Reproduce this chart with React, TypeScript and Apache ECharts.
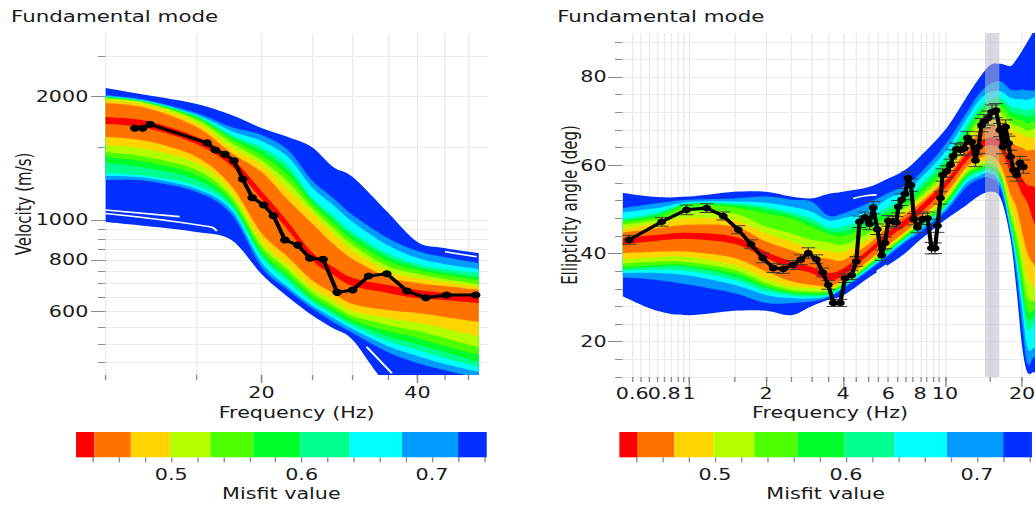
import React, { useEffect, useRef } from 'react';
import * as echarts from 'echarts';

const STRETCH = 1.38;
const CW = 750;
const CH = 507;
const FONT = 'DejaVu Sans';
const TEXT = '#1a1a1a';
const TICK = '#8c8c8c';
const GRIDLINE = '#ebebeb';

// ---------- Left panel: dispersion curve (observed) ----------
const dispFreq = [11.4, 11.8, 12.2, 15.7, 16.3, 17.0, 17.7, 18.4, 19.2, 20.2, 21.1, 22.2, 23.5, 24.8, 26.3, 28.0, 30.0, 32.2, 34.9, 38.2, 41.5, 45.5, 51.8];
const dispVel = [1671, 1671, 1709, 1541, 1480, 1445, 1394, 1258, 1133, 1088, 1024, 894, 869, 807, 803, 667, 676, 731, 740, 672, 647, 657, 657];

// Misfit envelopes of the inverted models (velocity m/s), per misfit class
const leftSampleFreq = [10, 12, 15, 17.5, 20, 22.5, 25, 27.5, 30, 35, 40, 45, 52.5];
const velBlueTop = [2094, 2013, 1915, 1800, 1674, 1592, 1505, 1346, 1272, 1046, 884, 855, 831];
const velAzureTop = [2013, 1958, 1821, 1683, 1610, 1480, 1251, 1131, 1028, 904, 841, 813, 786];
const velCyanTop = [2002, 1947, 1800, 1646, 1556, 1423, 1203, 1088, 989, 869, 808, 782, 760];
const velSpringTop = [1997, 1942, 1790, 1610, 1505, 1361, 1137, 1028, 935, 831, 782, 760, 743];
const velGreen2Top = [1991, 1936, 1780, 1592, 1472, 1323, 1118, 1006, 914, 813, 769, 747, 727];
const velGreenTop = [1986, 1931, 1770, 1574, 1439, 1287, 1100, 983, 894, 795, 756, 735, 715];
const velLimeTop = [1980, 1925, 1751, 1539, 1399, 1237, 1070, 956, 869, 773, 739, 719, 699];
const velGoldTop = [1958, 1904, 1721, 1497, 1361, 1183, 1040, 925, 841, 752, 723, 707, 687];
const velOrangeTop = [1925, 1872, 1683, 1455, 1308, 1118, 983, 874, 804, 727, 703, 691, 676];
const velRedTop = [1780, 1741, 1592, 1415, 1176, 989, 836, 769, 723, 695, 676, 665, 650];
const velRedBottom = [1712, 1674, 1530, 1353, 1125, 946, 799, 735, 691, 665, 646, 639, 628];
const velOrangeBottom = [1592, 1556, 1423, 1210, 930, 813, 715, 665, 625, 604, 594, 581, 565];
const velGoldBottom = [1522, 1488, 1376, 1170, 889, 777, 687, 639, 601, 578, 562, 546, 522];
const velLimeBottom = [1463, 1423, 1323, 1137, 865, 756, 668, 621, 584, 556, 537, 517, 491];
const velGreenBottom = [1423, 1384, 1287, 1112, 841, 735, 653, 608, 571, 537, 517, 494, 470];
const velGreen2Bottom = [1376, 1338, 1251, 1094, 827, 723, 643, 598, 562, 522, 499, 478, 452];
const velSpringBottom = [1301, 1279, 1210, 1076, 813, 707, 632, 588, 552, 508, 483, 462, 439];
const velCyanBottom = [1279, 1265, 1190, 1058, 790, 687, 621, 578, 543, 494, 467, 447, 427];
const velAzureBottom = [1251, 1244, 1170, 1034, 769, 676, 611, 565, 531, 478, 449, 432, 413];
const velBlueBottom = [989, 967, 935, 894, 739, 650, 588, 546, 511, 397, 375, 365, 355];

// thin white gaps between individual model curves (freq, velocity)
const velGapA = [[10, 1058], [13.9, 1019]];
const velGapB = [[10, 1037], [15.9, 963], [16.4, 940]];
const velGapC = [[45.2, 837], [52.0, 814]];
const velGapD = [[31.9, 492], [35.7, 424]];

// ---------- Right panel: ellipticity curve (observed) ----------
const ellFreq = [0.584, 0.782, 0.978, 1.173, 1.361, 1.558, 1.747, 1.941, 2.135, 2.336, 2.542, 2.731, 2.924, 3.143, 3.329, 3.501, 3.663, 3.899, 4.068, 4.321, 4.504, 4.634, 4.869, 5.072, 5.248, 5.44, 5.659, 5.83, 6.006, 6.266, 6.455, 6.572, 6.776, 6.98, 7.171, 7.366, 7.567, 7.809, 8.168, 8.543, 8.857, 9.14, 9.348, 9.603, 9.777, 10.14, 10.51, 10.75, 11.09, 11.5, 11.87, 12.24, 12.69, 13.15, 13.52, 13.89, 14.2, 14.72, 15.26, 15.82, 16.4, 16.85, 17.23, 17.7, 18.03, 18.52, 19.06, 19.63, 20.22];
const ellAngle = [43.1, 47.2, 49.9, 50.3, 48.5, 45.4, 42.1, 39.0, 36.7, 36.5, 37.4, 38.6, 40.1, 38.7, 35.7, 32.9, 28.8, 28.8, 34.4, 35.1, 38.2, 47.2, 48.2, 46.7, 50.4, 45.5, 39.6, 42.4, 47.4, 47.3, 47.1, 50.6, 52.2, 53.5, 57.1, 55.5, 47.8, 45.9, 47.8, 48.0, 41.2, 41.2, 46.3, 52.6, 57.8, 58.6, 60.1, 62.1, 63.7, 63.5, 63.8, 66.2, 65.3, 61.1, 64.2, 69.1, 70.0, 70.7, 72.1, 72.4, 68.0, 64.2, 68.7, 65.0, 61.9, 58.9, 57.8, 60.5, 59.7];
const ellErr = [1.0, 1.0, 1.1, 1.0, 0.9, 0.9, 1.0, 1.1, 1.0, 1.0, 1.0, 1.1, 1.2, 1.0, 1.0, 1.0, 0.8, 0.8, 1.0, 1.0, 1.1, 1.3, 1.2, 1.3, 1.4, 1.2, 1.2, 1.3, 1.2, 1.2, 1.3, 1.4, 1.3, 1.3, 1.4, 1.4, 1.3, 1.2, 1.3, 1.4, 1.3, 1.2, 1.5, 1.4, 1.4, 1.3, 1.3, 1.4, 1.3, 1.3, 1.4, 1.5, 1.4, 1.4, 1.5, 1.5, 1.5, 1.6, 1.6, 1.6, 1.5, 1.6, 1.6, 1.6, 1.5, 1.5, 1.4, 1.5, 1.5];
const shadedBand = [14.33, 16.3];

const rightSampleFreq = [0.55, 0.75, 1, 1.5, 2, 2.5, 3, 3.5, 4, 5, 6, 7, 8, 10, 12, 13.5, 15, 16.5, 18, 19, 20, 21, 22.5, 25];
const angBlueTop = [53.7, 52.8, 52.9, 54.0, 54.0, 52.9, 52.5, 53.5, 54.0, 55.0, 57.0, 59.0, 62.0, 68.0, 75.0, 79.5, 82.7, 83.0, 82.5, 84.0, 86.0, 88.0, 91.0, 95.0];
const angAzureTop = [50.3, 51.4, 52.2, 52.5, 52.9, 52.2, 51.8, 48.6, 49.1, 51.4, 53.7, 55.5, 58.2, 64.6, 71.5, 76.0, 78.5, 79.0, 77.2, 77.0, 77.2, 77.0, 77.0, 78.0];
const angCyanTop = [49.3, 50.3, 51.7, 51.8, 51.5, 50.6, 49.5, 47.5, 48.0, 49.5, 52.5, 54.2, 57.0, 63.0, 70.0, 74.5, 76.6, 76.8, 75.3, 75.0, 75.0, 74.8, 75.5, 76.0];
const angSpringTop = [47.8, 49.3, 51.4, 51.4, 50.6, 49.3, 48.0, 46.0, 46.1, 48.0, 50.6, 52.9, 55.5, 61.6, 68.5, 73.0, 75.0, 75.3, 73.5, 73.0, 72.8, 72.5, 73.0, 73.5];
const angGreen2Top = [47.5, 48.8, 51.2, 51.0, 50.0, 48.7, 47.0, 45.2, 45.0, 47.0, 49.5, 52.0, 54.6, 60.5, 67.5, 72.0, 73.8, 74.3, 72.3, 71.8, 71.5, 71.0, 71.5, 72.0];
const angGreenTop = [47.2, 48.3, 51.0, 50.5, 49.1, 48.0, 46.1, 44.5, 44.0, 46.0, 48.4, 51.0, 53.7, 59.3, 66.5, 71.0, 72.7, 73.5, 71.2, 70.5, 70.2, 69.5, 70.0, 70.5];
const angLimeTop = [46.5, 47.6, 49.5, 49.1, 46.1, 44.6, 43.1, 42.5, 42.0, 44.6, 48.0, 50.4, 52.8, 58.3, 65.3, 69.8, 71.5, 72.0, 69.7, 69.0, 68.5, 67.8, 68.3, 68.5];
const angGoldTop = [45.5, 46.9, 48.0, 47.6, 44.6, 42.7, 41.2, 40.5, 40.4, 43.2, 47.0, 49.6, 52.1, 57.4, 64.2, 68.5, 70.3, 70.5, 68.2, 67.5, 67.0, 66.3, 66.5, 66.5];
const angOrangeTop = [44.7, 45.7, 46.5, 46.1, 42.7, 40.8, 39.3, 38.8, 38.5, 42.0, 46.1, 48.9, 51.5, 56.8, 63.2, 67.2, 68.8, 68.5, 65.5, 64.5, 64.0, 63.3, 63.5, 63.0];
const angRedTop = [43.5, 44.2, 44.7, 43.8, 40.4, 38.2, 37.0, 35.6, 36.6, 40.8, 45.0, 47.8, 50.7, 56.2, 62.2, 65.0, 66.3, 65.5, 61.0, 59.0, 57.0, 55.5, 55.0, 52.0];
const angRedBottom = [42.0, 42.9, 43.3, 42.2, 39.0, 36.7, 35.6, 33.9, 35.0, 39.6, 43.5, 46.3, 49.1, 54.8, 60.6, 63.4, 64.6, 63.5, 58.5, 56.5, 53.5, 51.5, 46.5, 43.0];
const angOrangeBottom = [40.1, 40.4, 40.4, 39.0, 35.9, 33.7, 32.9, 32.6, 34.0, 38.3, 42.0, 45.0, 48.0, 53.3, 59.3, 61.5, 62.3, 60.0, 53.5, 50.5, 45.0, 40.0, 37.0, 33.0];
const angGoldBottom = [38.7, 39.2, 39.2, 37.4, 34.4, 32.5, 32.2, 32.0, 33.6, 37.8, 41.5, 44.6, 47.5, 52.6, 58.6, 60.5, 61.2, 58.8, 51.0, 46.5, 40.5, 34.5, 31.8, 28.0];
const angLimeBottom = [37.7, 38.2, 38.0, 36.3, 33.3, 31.8, 31.4, 31.5, 33.2, 37.4, 41.1, 44.2, 47.0, 52.0, 58.0, 59.8, 60.4, 58.0, 49.3, 44.0, 37.0, 30.0, 29.0, 25.0];
const angGreenBottom = [36.9, 37.4, 37.3, 35.5, 32.6, 31.3, 31.0, 31.2, 32.9, 37.1, 40.8, 43.9, 46.6, 51.4, 57.5, 59.2, 59.8, 57.4, 48.0, 42.0, 34.0, 27.0, 27.0, 23.0];
const angGreen2Bottom = [36.4, 37.0, 36.9, 34.8, 32.2, 31.0, 30.6, 30.9, 32.7, 36.9, 40.5, 43.6, 46.2, 50.9, 57.0, 58.7, 59.3, 56.8, 47.2, 40.5, 32.0, 25.0, 25.5, 21.5];
const angSpringBottom = [36.0, 36.3, 36.0, 34.0, 31.4, 30.5, 30.2, 30.6, 32.5, 36.6, 40.2, 43.3, 45.8, 50.4, 56.4, 58.2, 58.8, 56.2, 46.5, 39.0, 30.0, 22.5, 24.0, 20.0];
const angCyanBottom = [35.6, 35.6, 35.0, 32.9, 30.6, 29.9, 29.8, 30.3, 32.3, 36.3, 39.9, 43.0, 45.4, 50.0, 55.7, 57.6, 58.2, 55.6, 45.7, 37.5, 27.5, 18.5, 18.5, 16.0];
const angAzureBottom = [34.6, 34.0, 32.9, 31.0, 28.8, 28.8, 29.1, 30.0, 32.0, 36.0, 39.5, 42.5, 44.8, 49.4, 54.8, 56.8, 57.2, 54.8, 44.8, 35.5, 24.0, 15.0, 16.5, 14.0];
const angBlueBottom = [30.3, 27.0, 26.0, 27.0, 27.0, 26.0, 28.0, 29.5, 30.5, 34.4, 37.4, 40.1, 43.1, 47.6, 50.8, 53.0, 54.0, 52.5, 43.5, 32.0, 19.0, 13.0, 13.0, 10.0];

// white gaps between individual model curves (freq, angle)
const angGapE = [[4.38, 52.5], [4.9, 53.1], [5.41, 53.3]];
const angGapF = [[5.41, 35.9], [5.91, 37.4]];

// ---------- Misfit colour scale ----------
const misfitEdges = [0.427, 0.441, 0.469, 0.499, 0.53, 0.563, 0.599, 0.637, 0.677, 0.72, 0.742];
const misfitColors = ['#ff0000', '#ff7200', '#ffd400', '#b3ff00', '#4dff00', '#00ff2a', '#00ff8f', '#00ffff', '#009bff', '#0030ff'];
const misfitTicks = [0.44, 0.46, 0.48, 0.5, 0.52, 0.54, 0.56, 0.58, 0.6, 0.62, 0.64, 0.66, 0.68, 0.7, 0.72, 0.74];
const misfitLabels = [0.5, 0.6, 0.7];

// ---------- Tick values ----------
const velTickMajor = [600, 800, 1000, 2000];
const velTickMinor = [450, 500, 550, 600, 650, 700, 750, 800, 850, 900, 950, 1000, 1500, 2000, 2500];
const dispTickMajor = [20, 40];
const dispTickMinor = [10, 15, 20, 25, 30, 35, 40, 45, 50];
const ellFreqLabels = [0.6, 1, 2, 4, 6, 8, 10, 20];
const ellFreqLabelsAlt = [0.8];
const ellFreqMajor = [1, 2, 4, 10, 20];
const ellFreqMinor = [0.6, 0.65, 0.7, 0.75, 0.8, 0.85, 0.9, 0.95, 1, 1.5, 2, 2.5, 3, 3.5, 4, 4.5, 5, 5.5, 6, 6.5, 7, 7.5, 8, 8.5, 9, 9.5, 10, 15, 20];
const angleMajor = [20, 40, 60, 80];
const angleMinor = [12, 16, 20, 24, 28, 32, 36, 40, 44, 48, 52, 56, 60, 64, 68, 72, 76, 80, 84, 88];

const lg = (v: number) => Math.log10(v);
const ident = (v: number) => v;

// smooth band shape (Catmull-Rom through the boundary points)
function trace(ctx: any, pts: number[][], move: boolean) {
  if (move) ctx.moveTo(pts[0][0], pts[0][1]);
  else ctx.lineTo(pts[0][0], pts[0][1]);
  for (let i = 0; i < pts.length - 1; i++) {
    const p0 = pts[i - 1] || pts[i];
    const p1 = pts[i];
    const p2 = pts[i + 1];
    const p3 = pts[i + 2] || pts[i + 1];
    ctx.bezierCurveTo(
      p1[0] + (p2[0] - p0[0]) / 6, p1[1] + (p2[1] - p0[1]) / 6,
      p2[0] - (p3[0] - p1[0]) / 6, p2[1] - (p3[1] - p1[1]) / 6,
      p2[0], p2[1]
    );
  }
}
const BandShape = (echarts.graphic as any).extendShape({
  type: 'mbBand',
  shape: { up: [], lo: [] },
  buildPath(ctx: any, shape: any) {
    if (!shape.up || shape.up.length < 2) return;
    trace(ctx, shape.up, true);
    trace(ctx, shape.lo.slice().reverse(), false);
    ctx.closePath();
  },
});
(echarts.graphic as any).registerShape('mbBand', BandShape);

const levelColors = misfitColors.slice().reverse(); // drawn worst (blue) first

function bandSeries(xs: number[], ups: number[][], los: number[][], yf: (v: number) => number, axisIndex: number) {
  return {
    type: 'custom',
    xAxisIndex: axisIndex,
    yAxisIndex: axisIndex,
    z: 2,
    silent: true,
    data: levelColors.map((_, k) => [lg(xs[0]), yf(ups[k][0]), k]),
    encode: { x: 0, y: 1 },
    renderItem: (params: any, api: any) => {
      const k = params.dataIndex;
      const up = xs.map((x, i) => api.coord([lg(x), yf(ups[k][i])]));
      const lo = xs.map((x, i) => api.coord([lg(x), yf(los[k][i])]));
      const cs = params.coordSys;
      return {
        type: 'mbBand',
        shape: { up, lo },
        style: { fill: levelColors[k], stroke: null },
        clipPath: { type: 'rect', shape: { x: cs.x, y: cs.y, width: cs.width, height: cs.height } },
      };
    },
  };
}

function gapSeries(pts: number[][], yf: (v: number) => number, axisIndex: number) {
  return {
    type: 'line', xAxisIndex: axisIndex, yAxisIndex: axisIndex, z: 3, silent: true,
    data: pts.map((p) => [lg(p[0]), yf(p[1])]),
    symbol: 'none', smooth: true,
    lineStyle: { color: '#ffffff', width: 1.6 },
  };
}

const labelStyle = { color: TEXT, fontSize: 15, fontFamily: FONT };
const nameStyle = { color: TEXT, fontSize: 15, fontFamily: FONT };

function majorAxis(gridIndex: number, position: string, min: number, max: number, ticks: number[], labels: number[], fmt: (v: number) => string, tickLen: number, margin: number, name: string, nameGap: number) {
  return {
    type: 'value', gridIndex, position, min, max,
    axisLine: { show: false, onZero: false },
    axisTick: { show: true, customValues: ticks, length: tickLen, lineStyle: { color: TICK, width: 1 } },
    axisLabel: { show: true, customValues: labels, formatter: fmt, margin, hideOverlap: false, showMinLabel: true, showMaxLabel: true, ...labelStyle },
    splitLine: { show: false },
    name, nameLocation: 'middle', nameGap, nameTextStyle: nameStyle, nameMoveOverlap: false,
  };
}
function minorAxis(gridIndex: number, position: string, min: number, max: number, ticks: number[], tickLen: number, labels?: number[], fmt?: (v: number) => string, margin?: number) {
  return {
    type: 'value', gridIndex, position, min, max,
    axisLine: { show: false, onZero: false },
    axisTick: { show: true, customValues: ticks, length: tickLen, lineStyle: { color: TICK, width: 1 } },
    axisLabel: labels ? { show: true, customValues: labels, formatter: fmt, margin, hideOverlap: false, showMinLabel: true, showMaxLabel: true, ...labelStyle } : { show: false },
    splitLine: { show: true, lineStyle: { color: GRIDLINE, width: 1 } },
  };
}

const fmtPow = (v: number) => String(Math.round(Math.pow(10, v) * 100) / 100);
const fmtInt = (v: number) => String(Math.round(v));
const fmtMis = (v: number) => v.toFixed(1);

const L_XMIN = lg(10), L_XMAX = lg(54.7);
const L_YMIN = lg(420), L_YMAX = lg(2849);
const R_XMIN = lg(0.55), R_XMAX = lg(23);

function colorbarSeries(axisIndex: number) {
  return {
    type: 'custom',
    xAxisIndex: axisIndex,
    yAxisIndex: axisIndex,
    silent: true,
    data: misfitColors.map((_, k) => [misfitEdges[k], misfitEdges[k + 1], k]),
    encode: { x: [0, 1] },
    renderItem: (params: any, api: any) => {
      const k = params.dataIndex;
      const a = api.coord([misfitEdges[k], 1]);
      const b = api.coord([misfitEdges[k + 1], 0]);
      return { type: 'rect', shape: { x: a[0], y: a[1], width: b[0] - a[0], height: b[1] - a[1] }, style: { fill: misfitColors[k] } };
    },
  };
}

const option: any = {
  animation: false,
  title: [
    { text: 'Fundamental mode', left: 8, top: 9, padding: 0, textStyle: { fontFamily: FONT, fontSize: 15.5, fontWeight: 'normal', color: TEXT } },
    { text: 'Fundamental mode', left: 403.8, top: 9, padding: 0, textStyle: { fontFamily: FONT, fontSize: 15.5, fontWeight: 'normal', color: TEXT } },
  ],
  grid: [
    { left: 76.4, top: 33, width: 277.2, height: 342, outerBoundsMode: 'none' },
    { left: 451.1, top: 33, width: 300.8, height: 344, outerBoundsMode: 'none' },
    { left: 55.1, top: 432, width: 297.6, height: 25.3, outerBoundsMode: 'none' },
    { left: 448.8, top: 432, width: 299, height: 25.3, outerBoundsMode: 'none' },
  ],
  xAxis: [
    majorAxis(0, 'bottom', L_XMIN, L_XMAX, dispTickMajor.map(lg), dispTickMajor.map(lg), fmtPow, 8, 10, 'Frequency (Hz)', 30),
    minorAxis(0, 'bottom', L_XMIN, L_XMAX, dispTickMinor.map(lg), 5),
    majorAxis(1, 'bottom', R_XMIN, R_XMAX, ellFreqMajor.map(lg), ellFreqLabels.map(lg), fmtPow, 10, 9, 'Frequency (Hz)', 28),
    minorAxis(1, 'bottom', R_XMIN, R_XMAX, ellFreqMinor.map(lg), 5, ellFreqLabelsAlt.map(lg), fmtPow, 9),
    majorAxis(2, 'bottom', 0.427, 0.742, misfitTicks, misfitLabels, fmtMis, 5, 10, 'Misfit value', 29),
    majorAxis(3, 'bottom', 0.427, 0.742, misfitTicks, misfitLabels, fmtMis, 5, 10, 'Misfit value', 29),
  ],
  yAxis: [
    majorAxis(0, 'left', L_YMIN, L_YMAX, velTickMajor.map(lg), velTickMajor.map(lg), (v: number) => String(Math.round(Math.pow(10, v))), 10.5, 12.4, 'Velocity (m/s)', 52),
    minorAxis(0, 'left', L_YMIN, L_YMAX, velTickMinor.map(lg), 5.4),
    majorAxis(1, 'left', 12, 90, angleMajor, angleMajor, fmtInt, 10.5, 11.5, 'Ellipticity angle (deg)', 31),
    minorAxis(1, 'left', 12, 90, angleMinor, 5.4),
    { type: 'value', gridIndex: 2, min: 0, max: 1, show: false },
    { type: 'value', gridIndex: 3, min: 0, max: 1, show: false },
  ],
  series: [
    bandSeries(leftSampleFreq,
      [velBlueTop, velAzureTop, velCyanTop, velSpringTop, velGreen2Top, velGreenTop, velLimeTop, velGoldTop, velOrangeTop, velRedTop],
      [velBlueBottom, velAzureBottom, velCyanBottom, velSpringBottom, velGreen2Bottom, velGreenBottom, velLimeBottom, velGoldBottom, velOrangeBottom, velRedBottom],
      lg, 0),
    gapSeries(velGapA, lg, 0),
    gapSeries(velGapB, lg, 0),
    gapSeries(velGapC, lg, 0),
    gapSeries(velGapD, lg, 0),
    {
      type: 'line', xAxisIndex: 0, yAxisIndex: 0, z: 5,
      data: dispFreq.map((f, i) => [lg(f), lg(dispVel[i])]),
      symbol: 'circle', symbolSize: 7, showSymbol: true,
      lineStyle: { color: '#000', width: 3 }, itemStyle: { color: '#000' },
    },
    bandSeries(rightSampleFreq,
      [angBlueTop, angAzureTop, angCyanTop, angSpringTop, angGreen2Top, angGreenTop, angLimeTop, angGoldTop, angOrangeTop, angRedTop],
      [angBlueBottom, angAzureBottom, angCyanBottom, angSpringBottom, angGreen2Bottom, angGreenBottom, angLimeBottom, angGoldBottom, angOrangeBottom, angRedBottom],
      ident, 2),
    gapSeries(angGapE, ident, 2),
    gapSeries(angGapF, ident, 2),
    {
      type: 'custom', xAxisIndex: 2, yAxisIndex: 2, z: 3, silent: true,
      data: [[lg(shadedBand[0]), lg(shadedBand[1]), 50]],
      encode: { x: [0, 1], y: 2 },
      renderItem: (params: any, api: any) => {
        const a = api.coord([api.value(0), 90]);
        const b = api.coord([api.value(1), 12]);
        return { type: 'rect', shape: { x: a[0], y: a[1], width: b[0] - a[0], height: b[1] - a[1] }, style: { fill: 'rgba(188,188,196,0.55)' } };
      },
    },
    {
      type: 'custom', xAxisIndex: 2, yAxisIndex: 2, z: 4, silent: true,
      data: ellFreq.map((f, i) => [lg(f), ellAngle[i], ellErr[i]]),
      encode: { x: 0, y: 1 },
      renderItem: (params: any, api: any) => {
        const x = api.value(0), y = api.value(1), e = api.value(2);
        const t = api.coord([x, y + e]);
        const b = api.coord([x, y - e]);
        const w = 5;
        const st = { stroke: '#3c3c3c', lineWidth: 1 };
        return {
          type: 'group',
          children: [
            { type: 'line', shape: { x1: t[0], y1: t[1], x2: b[0], y2: b[1] }, style: st },
            { type: 'line', shape: { x1: t[0] - w, y1: t[1], x2: t[0] + w, y2: t[1] }, style: st },
            { type: 'line', shape: { x1: b[0] - w, y1: b[1], x2: b[0] + w, y2: b[1] }, style: st },
          ],
        };
      },
    },
    {
      type: 'line', xAxisIndex: 2, yAxisIndex: 2, z: 5,
      data: ellFreq.map((f, i) => [lg(f), ellAngle[i]]),
      symbol: 'circle', symbolSize: 6.5, showSymbol: true,
      lineStyle: { color: '#000', width: 3 }, itemStyle: { color: '#000' },
    },
    colorbarSeries(4),
    colorbarSeries(5),
  ],
};

export default function App() {
  const ref = useRef<HTMLDivElement>(null);
  useEffect(() => {
    document.body.style.margin = '0';
    const chart = echarts.init(ref.current as HTMLDivElement, undefined, { renderer: 'svg', width: CW, height: CH });
    chart.setOption(option);
    return () => chart.dispose();
  }, []);
  return (
    <div style={{ position: 'fixed', left: 0, top: 0, width: 1035, height: CH, overflow: 'hidden', background: '#fff' }}>
      <div ref={ref} style={{ width: CW, height: CH, transform: `scaleX(${STRETCH})`, transformOrigin: '0 0' }} />
    </div>
  );
}
